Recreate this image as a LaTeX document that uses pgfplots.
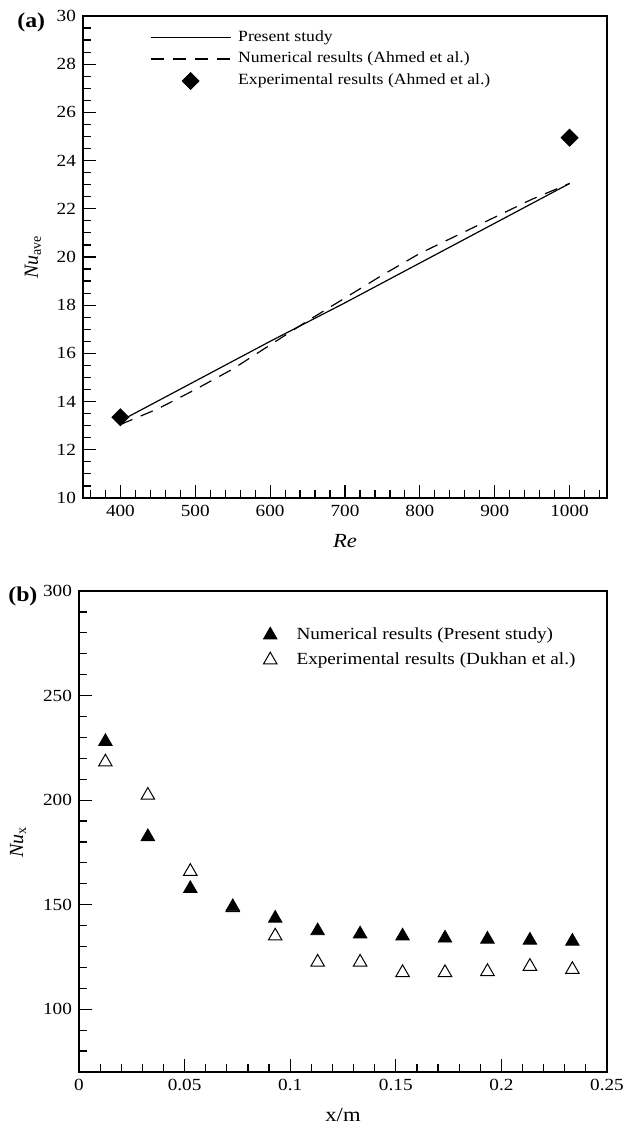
\documentclass[border=0pt]{standalone}
\usepackage{fontspec}
\setmainfont{Liberation Serif}[FakeStretch=1.13]
\newfontfamily\plainfont{Liberation Serif}
\usepackage{pgfplots}
\pgfplotsset{compat=1.18}
\newcommand{\f}{\fontsize{8.5}{10}\selectfont}
\newcommand{\lf}{\fontsize{10}{12}\selectfont}
\pgfplotsset{
  mystyle/.style={
    scale only axis,
    axis line style={line width=0.8pt},
    every tick/.style={black, line width=0.6pt},
    major tick length=6.5pt,
    minor tick length=4pt,
    tick align=inside,
    tick pos=left,
    tick label style={font=\f},
    /pgf/number format/assume math mode=true,
    /pgf/number format/1000 sep={},
    xlabel style={font=\lf},
    ylabel style={font=\plainfont\lf},
    legend style={font=\f, draw=none, fill=none, inner sep=0pt, outer sep=0pt},
    legend cell align=left,
    clip=false,
  },
  lineleg/.style={legend image code/.code={\draw[##1] (0pt,0pt) -- (40pt,0pt);}},
  diamleg/.style={legend image code/.code={\draw[##1] plot coordinates {(20pt,0pt)};}},
  markleg/.style={legend image code/.code={\draw[##1] plot coordinates {(0pt,0pt)};}},
}
\begin{document}
\begin{tikzpicture}
\useasboundingbox (0,0) rectangle (312pt,-564pt);
\begin{axis}[mystyle,
  at={(41.5pt,-8pt)}, anchor=north west,
  width=262pt, height=241pt,
  xmin=350, xmax=1050, ymin=10, ymax=30,
  xtick={400,500,600,700,800,900,1000},
  minor xtick={360,380,...,1040},
  ytick={10,12,...,30},
  minor ytick={10.5,11,...,29.5},
  xlabel={\textit{Re}},
  ylabel={\textit{Nu}\textsubscript{ave}},
  xlabel style={at={(axis description cs:0.5,-0.089)}, anchor=center},
  ylabel style={at={(axis description cs:-0.0954,0.5)}, anchor=center},
  legend style={font=\fontsize{7.8}{9.4}\selectfont, at={(axis description cs:0,1)}, anchor=north west, xshift=33.5pt, yshift=-6.75pt, row sep=2.75pt, column sep=3.5pt, nodes={inner sep=0pt, text height=6pt, text depth=2pt}},
]
\addplot[black, line width=0.6pt, lineleg] coordinates {
(400,13.2) (500,14.85) (600,16.5) (700,18.1) (800,19.75) (900,21.4) (1000,23.05)};
\addlegendentry{Present study}
\addplot[black, line width=0.6pt, dash pattern=on 6.5pt off 4.5pt, lineleg] coordinates {
(400,13.05) (450,13.7) (500,14.5) (550,15.35) (600,16.35) (650,17.35) (700,18.3) (750,19.25) (800,20.15) (850,20.9) (900,21.65) (950,22.4) (1000,23.05)};
\addlegendentry{Numerical results (Ahmed et al.)}
\addplot[only marks, mark=square*, mark size=3pt, mark options={rotate=45, fill=black, draw=black}, diamleg] coordinates {
(400,13.35) (1000,24.95)};
\addlegendentry{Experimental results (Ahmed et al.)}
\node[anchor=base west, xshift=-33pt, yshift=-6pt, inner sep=0pt, font=\bfseries\fontsize{10.5}{12}\selectfont] at (rel axis cs:0,1) {(a)};
\end{axis}
\begin{axis}[mystyle,
  at={(39.5pt,-295.5pt)}, anchor=north west,
  width=264pt, height=240.5pt,
  xmin=0, xmax=0.25, ymin=70, ymax=300,
  scaled x ticks=false,
  xtick={0,0.05,0.1,0.15,0.2,0.25},
  xticklabels={0,0.05,0.1,0.15,0.2,0.25},
  minor xtick={0.01,0.02,0.03,0.04,0.06,0.07,0.08,0.09,0.11,0.12,0.13,0.14,0.16,0.17,0.18,0.19,0.21,0.22,0.23,0.24},
  ytick={100,150,200,250,300},
  minor ytick={80,90,...,290},
  xlabel={x/m},
  ylabel={\textit{Nu}\textsubscript{x}},
  xlabel style={at={(axis description cs:0.5,-0.089)}, anchor=center},
  ylabel style={at={(axis description cs:-0.1155,0.478)}, anchor=center},
  legend style={at={(axis description cs:0,1)}, anchor=north west, xshift=92.25pt, yshift=-18pt, row sep=4.5pt, column sep=9.75pt, nodes={inner sep=0pt, text height=6pt, text depth=2pt}},
]
\addplot[only marks, mark=triangle*, mark size=3.9pt, mark options={fill=black, draw=black}, markleg] coordinates {
(0.0125,228) (0.0326,182.5) (0.0527,157.7) (0.0728,149) (0.0929,143.5) (0.1130,137.5) (0.1331,136) (0.1532,135) (0.1733,134) (0.1934,133.5) (0.2135,133) (0.2336,132.5)};
\addlegendentry{Numerical results (Present study)}
\addplot[only marks, mark=triangle, mark size=3.9pt, mark options={draw=black, line width=0.5pt}, markleg] coordinates {
(0.0125,218.2) (0.0326,202.3) (0.0527,165.9) (0.0728,148.5) (0.0929,135) (0.1130,122.5) (0.1331,122.5) (0.1532,117.5) (0.1733,117.5) (0.1934,118) (0.2135,120.5) (0.2336,119)};
\addlegendentry{Experimental results (Dukhan et al.)}
\node[anchor=base west, xshift=-35.5pt, yshift=-5pt, inner sep=0pt, font=\bfseries\fontsize{10.5}{12}\selectfont] at (rel axis cs:0,1) {(b)};
\end{axis}
\end{tikzpicture}
\end{document}
